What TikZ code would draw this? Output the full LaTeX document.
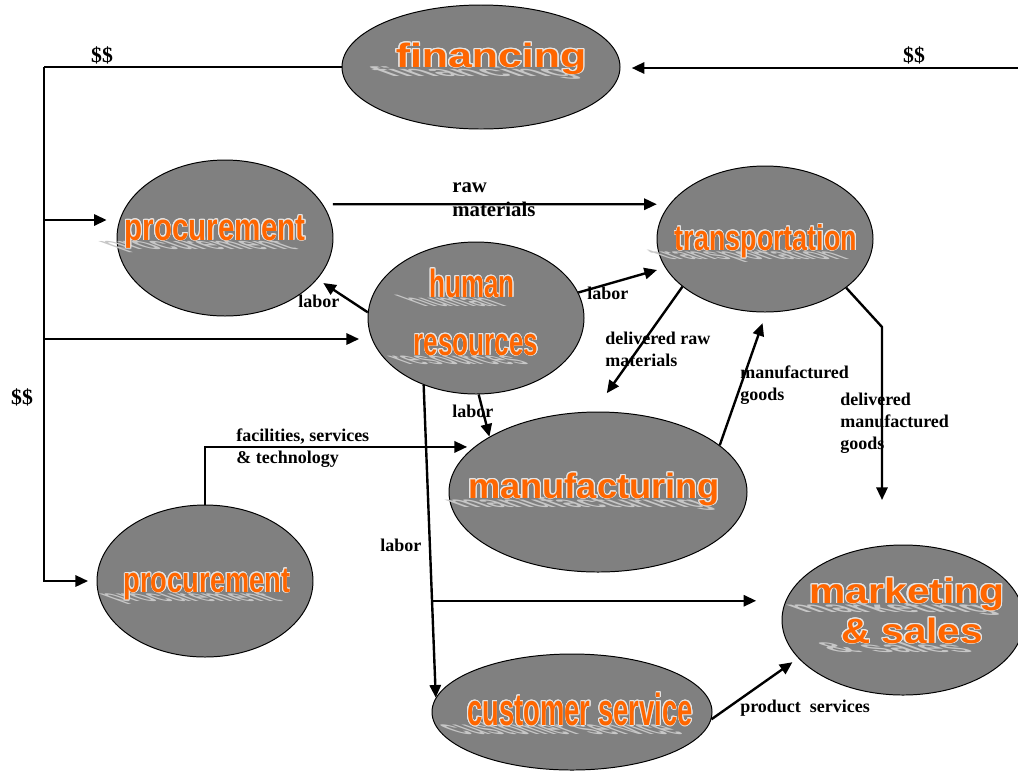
\documentclass[tikz,border=0pt]{standalone}
\usepackage{fontspec}
\setmainfont{Liberation Serif}
\newfontfamily\artfont{Liberation Sans}
\usepackage{contour}
\contourlength{0.7pt}
\usetikzlibrary{shapes.geometric,arrows.meta}

\definecolor{ovalgray}{RGB}{128,128,128}
\definecolor{artorange}{RGB}{255,102,0}

\newcommand{\artword}[6]{
  \node[artshadow,xscale=#5,font=\artfont\bfseries\fontsize{#4}{#4}\selectfont] (#1s) at (#2*\dx-6*\dx,#3*\dy+9*\dy) {#6};
  \node[art,xscale=#5,font=\artfont\bfseries\fontsize{#4}{#4}\selectfont] (#1) at (#2*\dx,#3*\dy) {\contour{white!80!gray}{#6}};
}

\begin{document}
\begin{tikzpicture}
    \def\dx{0.025cm}
    \def\dy{-0.025cm}

    \tikzstyle{oval}=[ellipse,draw=black,line width=0.7pt,fill=ovalgray,inner sep=0pt]
    \tikzstyle{art}=[anchor=base,inner sep=0pt,text=artorange]
    \tikzstyle{artshadow}=[anchor=base,inner sep=0pt,text=black!22,yscale=0.4,xslant=-1.1]
    \tikzstyle{flowtext}=[font=\bfseries\fontsize{12.8}{15.5}\selectfont,align=left,inner sep=0pt,anchor=west]
    \tikzstyle{cash}=[font=\bfseries\fontsize{15.5}{18}\selectfont,inner sep=0pt]

    \useasboundingbox (0,0) rectangle (1018*\dx,772*\dy);

    \node[oval,minimum width=278*\dx,minimum height=124*\dx] (fin) at (481*\dx,67*\dy) {};
    \node[oval,minimum width=216*\dx,minimum height=156*\dx] (procA) at (225*\dx,238*\dy) {};
    \node[oval,minimum width=216*\dx,minimum height=152*\dx] (hr) at (476*\dx,318*\dy) {};
    \node[oval,minimum width=216*\dx,minimum height=146*\dx] (trans) at (765*\dx,239*\dy) {};
    \node[oval,minimum width=298*\dx,minimum height=160*\dx] (manu) at (598*\dx,492*\dy) {};
    \node[oval,minimum width=216*\dx,minimum height=152*\dx] (procB) at (205*\dx,581*\dy) {};
    \node[oval,minimum width=242*\dx,minimum height=150*\dx] (mkt) at (903*\dx,620*\dy) {};
    \node[oval,minimum width=280*\dx,minimum height=116*\dx] (cust) at (572*\dx,712*\dy) {};

    \artword{finW}{491}{67}{24}{1.27}{financing}
    \artword{procAW}{215}{240}{27}{0.78}{procurement}
    \artword{humW}{472}{297}{28}{0.66}{human}
    \artword{resW}{476}{355}{28}{0.66}{resources}
    \artword{transW}{766}{250}{25.5}{0.75}{transportation}
    \artword{manuW}{594}{498}{25}{1.03}{manufacturing}
    \artword{procBW}{207}{592}{25.5}{0.76}{procurement}
    \artword{mktW}{907}{603}{25}{1.16}{marketing}
    \artword{salesW}{912}{643}{25}{1.15}{\& sales}
    \artword{custW}{580}{725}{32}{0.61}{customer service}

    \pgfsetarrowsend{Triangle[length=9pt,width=8pt]}
    \tikzstyle{fwd} = [draw=black, line width=1.7pt]

    \coordinate (bustop) at (44*\dx,67*\dy);
    \coordinate (busA) at (44*\dx,220*\dy);
    \coordinate (busH) at (44*\dx,339*\dy);
    \coordinate (cashin) at (1018*\dx,68*\dy);
    \coordinate (bend) at (882*\dx,327*\dy);
    \coordinate (dmgend) at (882*\dx,500*\dy);

          \draw [fwd,-] (fin.west) -- (bustop);
          \draw [fwd,shorten >=6pt] (bustop) |- (procB.west);
          \draw [fwd,shorten >=7pt] (busA) -- (busA -| procA.west);
          \draw [fwd,shorten >=6pt] (busH) -- (busH -| hr.west);
          \draw [fwd,shorten >=8pt] (cashin) -- (cashin -| fin.east);
          \draw [fwd,shorten <=7pt,shorten >=9pt] (procA.19) -- (trans.160);
          \draw [fwd,shorten >=5pt] (hr.177) -- (procA.-24);
          \draw [fwd,shorten >=6pt] (hr.14) -- (trans.196);
          \draw [fwd,shorten >=16pt] (trans.210) -- (manu.93);
          \draw [fwd,shorten >=8pt] (manu.21) -- (trans.-89);
          \draw [fwd] (trans.-31) -- (bend) -- (dmgend);
          \draw [fwd] (hr.-88) -- (manu.153);
          \draw [fwd] (hr.-128) -- coordinate[pos=0.69] (svcfork) (cust.174);
          \draw [fwd,shorten >=18pt] (svcfork) -- (svcfork -| mkt.west);
          \draw [fwd,shorten >=5pt] (procB.north) |- (manu.160);
          \draw [fwd,shorten >=5pt] (cust.-3) -- (mkt.200);

    \node[cash] (cash1) at (102*\dx,55*\dy) {\$\$};
    \node[cash] (cash2) at (914*\dx,55*\dy) {\$\$};
    \node[cash] (cash3) at (22*\dx,397*\dy) {\$\$};
    \node[flowtext,font=\bfseries\fontsize{14.8}{17}\selectfont] (rawl) at (452*\dx,200*\dy) {raw\\materials};
    \node[flowtext] (labor1) at (298*\dx,301*\dy) {labor};
    \node[flowtext] (labor2) at (587*\dx,293*\dy) {labor};
    \node[flowtext] (labor3) at (452*\dx,411*\dy) {labor};
    \node[flowtext] (labor4) at (380*\dx,545*\dy) {labor};
    \node[flowtext] (drm) at (605*\dx,349*\dy) {delivered raw\\materials};
    \node[flowtext] (mg) at (740*\dx,385*\dy) {manufactured\\goods};
    \node[flowtext] (dmg) at (840*\dx,423*\dy) {delivered\\manufactured\\goods};
    \node[flowtext] (fst) at (236*\dx,448*\dy) {facilities, services\\\& technology};
    \node[flowtext] (ps) at (740*\dx,708*\dy) {product\ \ services};

  \end{tikzpicture}
\end{document}
